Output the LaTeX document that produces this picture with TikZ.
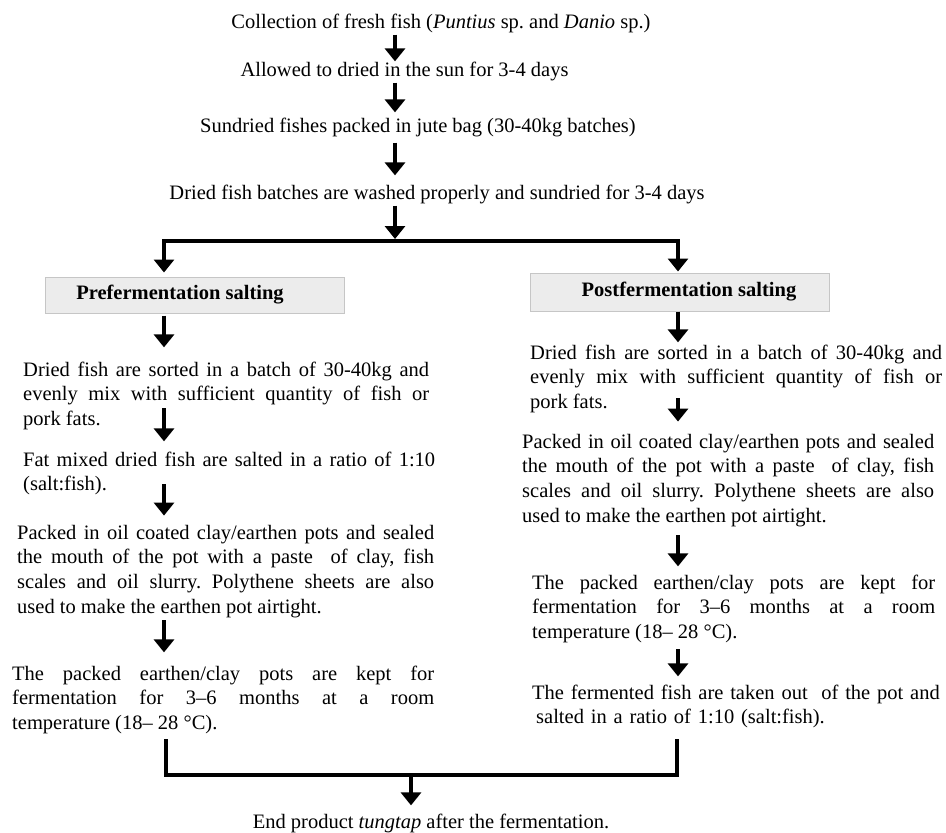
\documentclass[tikz,border=0pt]{standalone}
\usepackage{fontspec}
\setmainfont{Liberation Serif}
\usetikzlibrary{arrows.meta,calc}
\tolerance=10000
\hbadness=10000
\frenchspacing

\begin{document}
\begin{tikzpicture}[x=1pt, y=-1pt,
  every node/.style={font=\fontsize{20.5}{24.8}\selectfont, inner sep=2pt},
  flow/.style={-{Triangle[width=20pt,length=13pt]}, line width=3.5pt},
  bar/.style={line width=4.5pt},
  para/.style={anchor=base west, align=justify, inner xsep=0pt},
  saltbox/.style={draw=gray!45, fill=gray!15, line width=1pt, minimum width=299pt},
  lbl/.style={font=\fontsize{20.5}{24.8}\selectfont\bfseries}]
  \useasboundingbox (0,0) rectangle (946,833);

  % arrow axes
  \coordinate (maxis) at (395,0);
  \coordinate (laxis) at (164,0);
  \coordinate (raxis) at (678,0);

  % common steps
  \node[anchor=base] (coll) at (441,28) {Collection of fresh fish (\textit{Puntius} sp. and \textit{Danio} sp.)};
  \node[anchor=base] (allow) at (404.5,76) {Allowed to dried in the sun for 3-4 days};
  \node[anchor=base] (sun) at (418,132) {Sundried fishes packed in jute bag (30-40kg batches)};
  \node[anchor=base] (wash) at (437,199) {Dried fish batches are washed properly and sundried for 3-4 days};

  \draw[flow, shorten >=-2pt] (coll.south -| maxis) -- (allow.north -| maxis);
  \draw[flow, shorten >=3pt] (allow.south -| maxis) -- (sun.north -| maxis);
  \draw[flow, shorten <=4pt, shorten >=7pt] (sun.south -| maxis) -- (wash.north -| maxis);

  % split
  \coordinate (splitL) at (164,241);
  \coordinate (splitR) at (678,241);
  \draw[flow, shorten >=2pt] (wash.south -| maxis) -- (maxis |- splitL);

  \node[saltbox, minimum height=36pt, label={[lbl, xshift=-14.5pt]center:Prefermentation salting}] (lbox) at (194.5,295) {};
  \node[saltbox, minimum height=38pt, label={[lbl, xshift=9.5pt]center:Postfermentation salting}] (rbox) at (679.5,292) {};

  \draw[flow, shorten >=4pt] (splitL) -- (splitL |- lbox.north);
  \draw[flow, shorten >=1pt] (splitR) -- (splitR |- rbox.north);
  \draw[bar, line cap=rect] (splitL) -- (splitR);

  % prefermentation salting
  \node[para, text width=406pt] (lsort) at (23,376) {Dried fish are sorted in a batch of 30-40kg and\linebreak evenly mix with sufficient quantity of fish or\linebreak pork fats.};
  \node[para, text width=412pt] (lfat) at (23,466) {Fat mixed dried fish are salted in a ratio of 1:10\linebreak (salt:fish).};
  \node[para, text width=417pt] (lpack) at (17,539) {Packed in oil coated clay/earthen pots and sealed\linebreak the mouth of the pot with a paste\ \ of clay, fish\linebreak scales and oil slurry. Polythene sheets are also\linebreak used to make the earthen pot airtight.};
  \node[para, text width=422pt] (lferm) at (12,680) {The packed earthen/clay pots are kept for\linebreak fermentation for 3--6 months at a room\linebreak temperature (18-- 28 °C).};

  \draw[flow, shorten <=2pt, shorten >=12pt] (lbox.south -| laxis) -- (lsort.north -| laxis);
  \draw[flow, shorten >=8pt] ($(lsort.south -| laxis)+(0,-24)$) -- (lfat.north -| laxis);
  \draw[flow, shorten >=7pt] ($(lfat.south -| laxis)+(0,-13)$) -- (lpack.north -| laxis);
  \draw[flow, shorten >=11pt] (lpack.south -| laxis) -- (lferm.north -| laxis);

  % postfermentation salting
  \node[para, text width=412pt] (rsort) at (530,359) {Dried fish are sorted in a batch of 30-40kg and\linebreak evenly mix with sufficient quantity of fish or\linebreak pork fats.};
  \node[para, text width=412pt] (rpack) at (522,448) {Packed in oil coated clay/earthen pots and sealed\linebreak the mouth of the pot with a paste\ \ of clay, fish\linebreak scales and oil slurry. Polythene sheets are also\linebreak used to make the earthen pot airtight.};
  \node[para, text width=403pt] (rferm) at (532,589) {The packed earthen/clay pots are kept for\linebreak fermentation for 3--6 months at a room\linebreak temperature (18-- 28 °C).};
  \node[para, text width=410pt, align=left] (rfish) at (532,699) {The fermented fish are taken out\ \ of the pot and\\ \hspace*{4pt}salted in a ratio of 1:10 (salt:fish).};

  \draw[flow] (rbox.south -| raxis) -- (rsort.north -| raxis);
  \draw[flow, shorten >=10pt] ($(rsort.south -| raxis)+(0,-17)$) -- (rpack.north -| raxis);
  \draw[flow, shorten <=6pt, shorten >=6pt] (rpack.south -| raxis) -- (rferm.north -| raxis);
  \draw[flow, shorten <=4pt, shorten >=6pt] (rferm.south -| raxis) -- (rfish.north -| raxis);

  % merge
  \coordinate (mergeL) at (166,775);
  \coordinate (mergeR) at (677,775);
  \coordinate (merge) at (411,775);
  \draw[bar] (mergeL) ++(0,-36) -- (mergeL) -- (mergeR) -- ++(0,-36);

  \node[anchor=base] (endp) at (431,828) {End product \textit{tungtap} after the fermentation.};
  \draw[flow, shorten >=6pt] (merge) -- (merge |- endp.north);
\end{tikzpicture}
\end{document}
